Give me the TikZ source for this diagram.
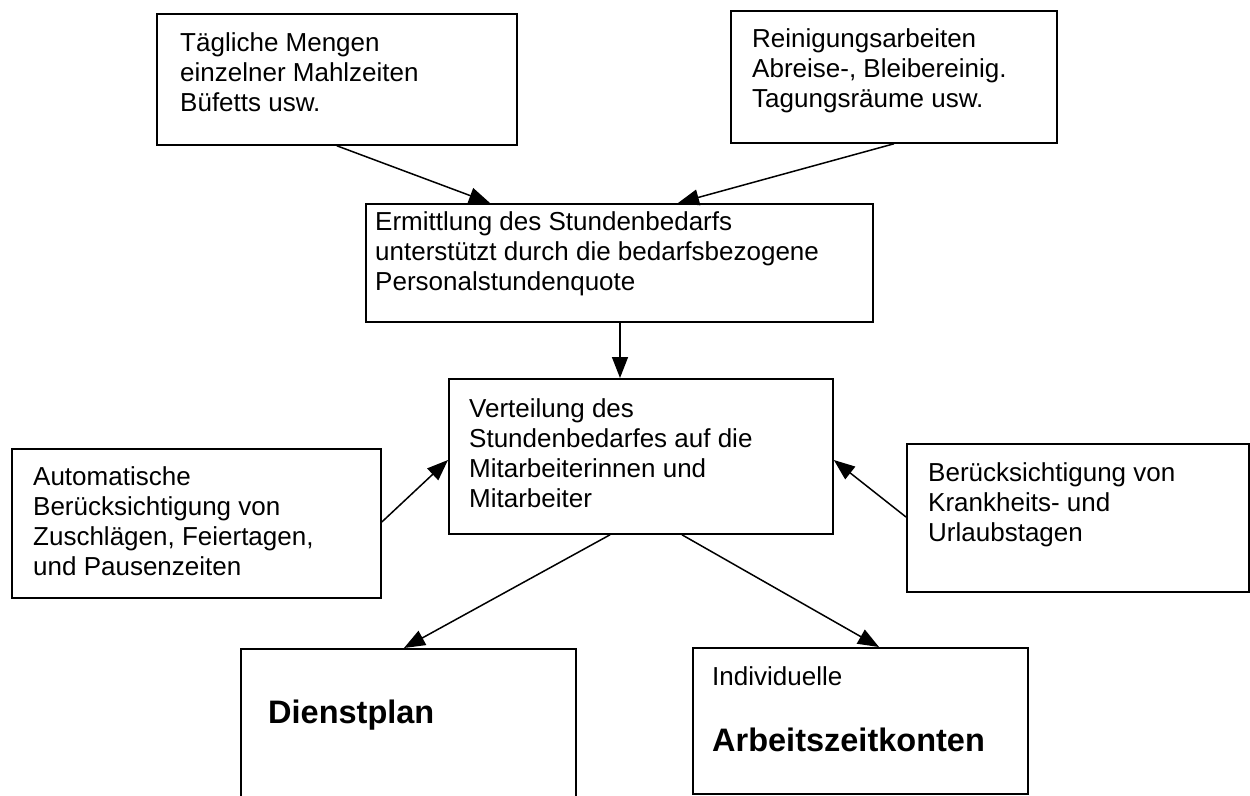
\documentclass[tikz,border=0pt]{standalone}
\usepackage{fontspec}
\setmainfont{Liberation Sans}
\usetikzlibrary{arrows.meta,calc}
\begin{document}
\begin{tikzpicture}[x=1pt,y=-1pt,
  box/.style={draw, line width=1.8pt, fill=white, inner sep=0pt, anchor=north west},
  txt/.style={inner sep=0pt, anchor=north west, align=left, font=\fontsize{26}{30}\selectfont},
  bigtxt/.style={inner sep=0pt, anchor=north west, font=\fontsize{32.5}{38}\selectfont\bfseries},
  arr/.style={line width=1.5pt, -{Triangle[length=21pt,width=16pt]}}]
\useasboundingbox[fill=white] (0,0) rectangle (1250,795);
% boxes
\node[box, minimum width=360pt, minimum height=131pt] (b1) at (156,13) {};
\node[box, minimum width=326pt, minimum height=132pt] (b2) at (730,10) {};
\node[box, minimum width=507pt, minimum height=118pt] (m) at (365,203) {};
\node[box, minimum width=384pt, minimum height=155pt] (c) at (448,378) {};
\node[box, minimum width=369pt, minimum height=149pt] (l) at (11,448) {};
\node[box, minimum width=342pt, minimum height=148pt] (r) at (906,443) {};
\node[box, minimum width=335pt, minimum height=155pt] (d) at (240,648) {};
\node[box, minimum width=335pt, minimum height=146pt] (a) at (692,647) {};
% texts
\node[txt] (t1) at ($(b1.north west)+(24,19)$) {Tägliche Mengen\\einzelner Mahlzeiten\\Büfetts usw.};
\node[txt] (t2) at ($(b2.north west)+(22,18)$) {Reinigungsarbeiten\\Abreise-, Bleibereinig.\\Tagungsräume usw.};
\node[txt] (tm) at ($(m.north west)+(10,8)$) {Ermittlung des Stundenbedarfs\\unterstützt durch die bedarfsbezogene\\Personalstundenquote};
\node[txt] (tc) at ($(c.north west)+(21,20)$) {Verteilung des\\Stundenbedarfes auf die\\Mitarbeiterinnen und\\Mitarbeiter};
\node[txt] (tl) at ($(l.north west)+(22,18)$) {Automatische\\Berücksichtigung von\\Zuschlägen, Feiertagen,\\und Pausenzeiten};
\node[txt] (tr) at ($(r.north west)+(22,19)$) {Berücksichtigung von\\Krankheits- und\\Urlaubstagen};
\node[bigtxt] (td) at ($(d.north west)+(28,52)$) {Dienstplan};
\node[txt] (ti) at ($(a.north west)+(20,19)$) {Individuelle};
\node[bigtxt] (ta) at ($(a.north west)+(20,81)$) {Arbeitszeitkonten};
% connectors
\draw[arr] (b1.south) -- ($(m.north west)+(125,0)$);
\draw[arr] (b2.south) -- ($(m.north west)+(313,0)$);
\draw[arr] ($(m.south west)+(255,0)$) -- ($(c.north west)+(172,0)$);
\draw[arr] ($(l.north east)+(0,74)$) -- ($(c.north west)+(0,82)$);
\draw[arr] ($(r.north west)+(0,74)$) -- ($(c.north east)+(0,82)$);
\draw[arr] ($(c.south west)+(162,0)$) -- ($(d.north west)+(164,0)$);
\draw[arr] ($(c.south west)+(234,0)$) -- ($(a.north west)+(187,0)$);
\end{tikzpicture}
\end{document}
